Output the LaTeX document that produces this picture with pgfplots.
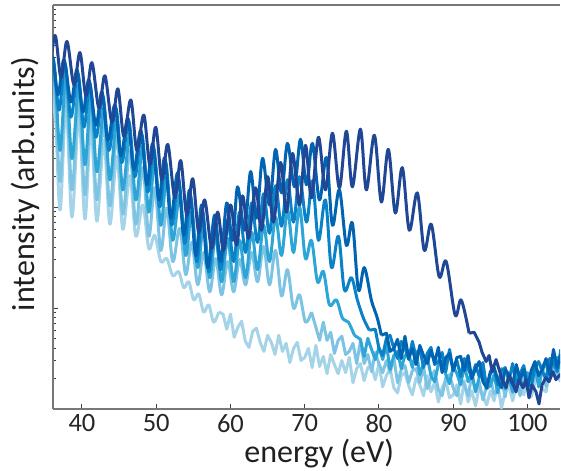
\documentclass[border=0pt]{standalone}
\usepackage{fontspec}
\setmainfont{Carlito}
\usepackage{pgfplots}
\pgfplotsset{compat=1.18}
\definecolor{cNavy}{RGB}{32,70,150}
\definecolor{cBlue}{RGB}{0,100,178}
\definecolor{cMid}{RGB}{10,130,200}
\definecolor{cCyan}{RGB}{45,165,215}
\definecolor{cLight}{RGB}{125,195,228}
\definecolor{cPale}{RGB}{165,212,232}
\definecolor{axgray}{RGB}{120,120,120}
\begin{document}
\begin{tikzpicture}
\path[use as bounding box] (-53bp,-62bp) rectangle (508bp,409bp);
\begin{axis}[
  at={(0,0)}, anchor=south west,
  scale only axis, width=507bp, height=404bp,
  xmin=36.1, xmax=104.38, ymin=0, ymax=4,
  axis x line*=box, axis y line*=left,
  axis line style={-, draw=axgray, line width=1.2bp},
  xtick={40,50,60,70,80,90,100},
  xtick pos=left, ytick pos=left,
  ytick={1,2,3}, yticklabels={},
  minor ytick={0.301,0.477,0.602,0.699,0.778,0.845,0.903,0.954,
               1.301,1.477,1.602,1.699,1.778,1.845,1.903,1.954,
               2.301,2.477,2.602,2.699,2.778,2.845,2.903,2.954,
               3.301,3.477,3.602,3.699,3.778,3.845,3.903,3.954},
  tick align=inside,
  major tick length=5bp, minor tick length=3bp,
  every tick/.style={draw=black!75, line width=1bp},
  /pgf/number format/assume math mode=true,
  ticklabel style={font=\fontsize{26.5bp}{30bp}\selectfont, text=black!85},
  xticklabel style={yshift=-2bp},
  xlabel={energy (eV)}, ylabel={intensity (arb.units)},
  every axis x label/.style={at={(axis description cs:0.525,-0.074)}, anchor=north, inner sep=0pt, font=\fontsize{32bp}{36bp}\selectfont, text=black!88},
  every axis y label/.style={at={(axis description cs:-0.0256,0.557)}, rotate=90, anchor=south, inner sep=0pt, font=\fontsize{32bp}{36bp}\selectfont, text=black!88},
  every axis plot/.append style={line width=3bp, line join=round},
  hh/.style={smooth, tension=0.55},
  nn/.style={sharp plot},
]
% lightest
\addplot[cPale,hh] coordinates {(35.4,1.9)(36.23,3.11)(37.04,1.97)(37.85,3.01)(38.65,1.90)(39.59,2.91)(40.40,1.88)(41.21,2.80)(42.01,1.86)(42.95,2.66)(43.76,1.83)(44.70,2.50)(45.51,1.78)(46.45,2.31)(47.26,1.71)(48.20,2.02)(49.00,1.59)(49.81,1.72)(50.62,1.46)(51.42,1.49)(52.23,1.32)(53.03,1.36)(53.71,1.20)(54.38,1.26)(55.05,1.08)(55.72,1.14)(56.39,0.96)(57.07,1.03)(57.74,0.86)(58.41,0.96)};
\addplot[cPale,nn] coordinates {(58.41,0.96)(59.0,0.94)(59.5,0.79)(60.0,0.94)(60.5,0.71)(61.0,0.81)(61.5,0.87)(62.0,0.67)(62.5,0.61)(63.0,0.77)(63.5,0.80)(64.0,0.66)(64.5,0.57)(65.0,0.73)(65.5,0.66)(66.0,0.54)(66.5,0.73)(67.0,0.57)(67.5,0.65)(68.0,0.46)(68.5,0.60)(69.0,0.66)(69.5,0.48)(70.0,0.51)(70.5,0.60)(71.0,0.41)(71.5,0.63)(72.0,0.42)(72.5,0.52)(73.0,0.35)(73.5,0.54)(74.0,0.44)(74.5,0.35)(75.0,0.48)(75.5,0.36)(76.0,0.51)(76.5,0.26)(77.0,0.40)(77.5,0.45)(78.0,0.28)(78.5,0.41)(79.0,0.43)(79.5,0.29)(80.0,0.45)(80.5,0.22)(81.0,0.33)(81.5,0.40)(82.0,0.21)(82.5,0.16)(83.0,0.33)(83.5,0.36)(84.0,0.23)(84.5,0.14)(85.0,0.31)(85.5,0.24)(86.0,0.13)(86.5,0.33)(87.0,0.17)(87.5,0.26)(88.0,0.07)(88.5,0.21)(89.0,0.28)(89.5,0.11)(90.0,0.14)(90.5,0.24)(91.0,0.05)(91.5,0.28)(92.0,0.07)(92.5,0.18)(93.0,0.03)(93.5,0.22)(94.0,0.13)(94.5,0.04)(95.0,0.18)(95.5,0.08)(96.0,0.25)(96.5,0.01)(97.0,0.17)(97.5,0.23)(98.0,0.08)(98.5,0.23)(99.0,0.26)(99.5,0.14)(100.0,0.32)(100.5,0.12)(101.0,0.26)(101.5,0.36)(102.0,0.20)(102.5,0.17)(103.0,0.37)(103.5,0.43)(104.0,0.33)(104.5,0.27)};
% light
\addplot[cLight,hh] coordinates {(35.4,2.25)(36.23,3.26)(37.04,2.25)(37.85,3.18)(38.65,2.17)(39.59,3.06)(40.40,2.12)(41.21,2.96)(42.01,2.07)(42.95,2.84)(43.76,2.01)(44.70,2.71)(45.51,1.93)(46.45,2.56)(47.26,1.83)(48.20,2.39)(49.00,1.71)(49.81,2.19)(50.62,1.57)(51.42,1.99)(52.23,1.46)(53.17,1.79)(53.98,1.33)(54.78,1.65)(55.59,1.23)(56.39,1.55)(57.20,1.16)(58.01,1.49)(58.81,1.13)(59.62,1.46)(60.43,1.16)(61.23,1.48)(62.04,1.23)(62.85,1.55)(63.65,1.26)(64.46,1.61)(65.26,1.23)(66.07,1.57)(66.88,1.12)(67.68,1.38)(68.49,1.00)(69.30,1.13)(70.10,0.86)(70.91,0.96)};
\addplot[cLight,nn] coordinates {(70.91,0.96)(71.5,0.81)(72.0,0.68)(72.5,0.86)(73.0,0.68)(73.5,0.76)(74.0,0.55)(74.5,0.68)(75.0,0.72)(75.5,0.54)(76.0,0.57)(76.5,0.65)(77.0,0.45)(77.5,0.67)(78.0,0.45)(78.5,0.54)(79.0,0.37)(79.5,0.56)(80.0,0.45)(80.5,0.36)(81.0,0.48)(81.5,0.36)(82.0,0.51)(82.5,0.26)(83.0,0.39)(83.5,0.43)(84.0,0.26)(84.5,0.38)(85.0,0.40)(85.5,0.26)(86.0,0.42)(86.5,0.20)(87.0,0.31)(87.5,0.38)(88.0,0.19)(88.5,0.13)(89.0,0.31)(89.5,0.34)(90.0,0.21)(90.5,0.13)(91.0,0.30)(91.5,0.24)(92.0,0.13)(92.5,0.33)(93.0,0.18)(93.5,0.27)(94.0,0.09)(94.5,0.23)(95.0,0.30)(95.5,0.15)(96.0,0.19)(96.5,0.30)(97.0,0.12)(97.5,0.36)(98.0,0.16)(98.5,0.28)(99.0,0.13)(99.5,0.34)(100.0,0.25)(100.5,0.19)(101.0,0.35)(101.5,0.26)(102.0,0.44)(102.5,0.22)(103.0,0.38)(103.5,0.45)(104.0,0.31)(104.5,0.47)};
% cyan
\addplot[cCyan,hh] coordinates {(35.4,2.6)(36.23,3.38)(37.04,2.56)(37.85,3.31)(38.65,2.48)(39.59,3.21)(40.40,2.42)(41.21,3.11)(42.01,2.35)(42.95,2.98)(43.76,2.27)(44.70,2.86)(45.51,2.17)(46.45,2.73)(47.26,2.07)(48.20,2.59)(49.00,1.95)(49.81,2.45)(50.62,1.82)(51.42,2.29)(52.23,1.67)(53.17,2.12)(53.98,1.52)(54.78,1.95)(55.59,1.40)(56.39,1.82)(57.20,1.30)(58.01,1.72)(58.81,1.26)(59.62,1.69)(60.43,1.26)(61.23,1.67)(62.04,1.30)(62.85,1.75)(63.65,1.38)(64.46,1.82)(65.26,1.46)(66.07,1.90)(66.88,1.52)(67.68,1.97)(68.49,1.55)(69.30,2.00)(70.10,1.49)(70.91,1.67)(71.72,1.26)(72.52,1.36)(73.33,1.03)(74.27,1.08)(75.08,0.90)(75.88,0.86)(76.69,0.73)};
\addplot[cCyan,nn] coordinates {(76.69,0.73)(77.5,0.69)(78.0,0.52)(78.5,0.70)(79.0,0.59)(79.5,0.49)(80.0,0.61)(80.5,0.49)(81.0,0.64)(81.5,0.39)(82.0,0.53)(82.5,0.57)(83.0,0.40)(83.5,0.53)(84.0,0.55)(84.5,0.41)(85.0,0.57)(85.5,0.34)(86.0,0.45)(86.5,0.52)(87.0,0.33)(87.5,0.27)(88.0,0.44)(88.5,0.47)(89.0,0.34)(89.5,0.25)(90.0,0.42)(90.5,0.35)(91.0,0.24)(91.5,0.43)(92.0,0.27)(92.5,0.36)(93.0,0.17)(93.5,0.31)(94.0,0.37)(94.5,0.20)(95.0,0.23)(95.5,0.34)(96.0,0.16)(96.5,0.40)(97.0,0.20)(97.5,0.32)(98.0,0.17)(98.5,0.38)(99.0,0.29)(99.5,0.22)(100.0,0.36)(100.5,0.27)(101.0,0.44)(101.5,0.22)(102.0,0.39)(102.5,0.45)(103.0,0.31)(103.5,0.47)(104.0,0.51)(104.5,0.40)};
% mid
\addplot[cMid,hh] coordinates {(35.3,2.95)(36.10,3.47)(36.91,2.96)(37.71,3.42)(38.52,2.89)(39.46,3.32)(40.27,2.79)(41.07,3.22)(41.88,2.69)(42.82,3.10)(43.63,2.56)(44.57,2.98)(45.37,2.44)(46.31,2.85)(47.12,2.30)(48.06,2.72)(48.87,2.15)(49.67,2.58)(50.48,2.00)(51.29,2.44)(52.09,1.82)(53.03,2.27)(53.84,1.64)(54.65,2.10)(55.45,1.46)(56.26,1.95)(57.07,1.36)(57.87,1.85)(58.68,1.38)(59.62,1.87)(60.43,1.46)(61.23,1.95)(62.04,1.55)(62.85,2.04)(63.65,1.65)(64.46,2.13)(65.26,1.74)(66.07,2.21)(66.88,1.81)(67.68,2.27)(68.49,1.85)(69.30,2.30)(70.24,1.85)(71.04,2.26)(71.85,1.67)(72.79,2.07)(73.60,1.40)(74.54,1.71)(75.34,1.18)(76.29,1.30)(77.09,1.08)(77.90,0.90)(78.70,0.78)};
\addplot[cMid,nn] coordinates {(78.70,0.78)(79.5,0.79)(80.0,0.60)(80.5,0.53)(81.0,0.70)(81.5,0.73)(82.0,0.60)(82.5,0.50)(83.0,0.67)(83.5,0.60)(84.0,0.49)(84.5,0.67)(85.0,0.51)(85.5,0.60)(86.0,0.41)(86.5,0.55)(87.0,0.61)(87.5,0.44)(88.0,0.47)(88.5,0.56)(89.0,0.37)(89.5,0.59)(90.0,0.38)(90.5,0.48)(91.0,0.32)(91.5,0.50)(92.0,0.40)(92.5,0.31)(93.0,0.44)(93.5,0.32)(94.0,0.46)(94.5,0.21)(95.0,0.35)(95.5,0.40)(96.0,0.24)(96.5,0.38)(97.0,0.41)(97.5,0.28)(98.0,0.45)(98.5,0.23)(99.0,0.35)(99.5,0.43)(100.0,0.25)(100.5,0.22)(101.0,0.41)(101.5,0.47)(102.0,0.37)(102.5,0.30)(103.0,0.50)(103.5,0.46)(104.0,0.37)(104.5,0.59)};
% blue
\addplot[cBlue,hh] coordinates {(35.2,3.1)(35.97,3.50)(36.77,3.11)(37.58,3.46)(38.52,3.04)(39.33,3.36)(40.13,2.94)(40.94,3.26)(41.88,2.81)(42.69,3.14)(43.49,2.66)(44.44,3.01)(45.24,2.51)(46.18,2.88)(46.99,2.37)(47.93,2.76)(48.73,2.22)(49.54,2.63)(50.35,2.07)(51.15,2.49)(51.96,1.89)(52.90,2.34)(53.71,1.72)(54.51,2.17)(55.32,1.52)(56.13,2.02)(56.93,1.40)(57.87,1.92)(58.68,1.46)(59.49,2.04)(60.29,1.67)(60.96,2.20)(61.90,1.77)(62.71,2.35)(63.52,1.89)(64.32,2.48)(65.26,2.02)(66.07,2.57)(66.88,2.14)(67.68,2.63)(68.62,2.20)(69.43,2.67)(70.24,2.22)(71.04,2.63)(71.98,2.07)(72.93,2.49)(73.73,1.82)(74.67,2.17)(75.61,1.62)(76.42,1.84)(77.23,1.18)(78.03,1.40)(78.97,1.08)(79.78,0.90)(80.32,0.73)};
\addplot[cBlue,nn] coordinates {(80.32,0.73)(81.0,0.75)(81.5,0.57)(82.0,0.60)(82.5,0.69)(83.0,0.50)(83.5,0.72)(84.0,0.50)(84.5,0.60)(85.0,0.44)(85.5,0.63)(86.0,0.53)(86.5,0.45)(87.0,0.58)(87.5,0.46)(88.0,0.61)(88.5,0.36)(89.0,0.51)(89.5,0.55)(90.0,0.38)(90.5,0.51)(91.0,0.52)(91.5,0.38)(92.0,0.53)(92.5,0.30)(93.0,0.40)(93.5,0.47)(94.0,0.27)(94.5,0.21)(95.0,0.37)(95.5,0.41)(96.0,0.29)(96.5,0.21)(97.0,0.39)(97.5,0.34)(98.0,0.24)(98.5,0.44)(99.0,0.29)(99.5,0.39)(100.0,0.21)(100.5,0.38)(101.0,0.47)(101.5,0.33)(102.0,0.39)(102.5,0.50)(103.0,0.34)(103.5,0.59)(104.0,0.41)(104.5,0.54)};
% navy
\addplot[cNavy,hh] coordinates {(35.55,3.25)(36.37,3.70)(37.18,3.28)(37.98,3.64)(38.92,3.21)(39.73,3.53)(40.54,3.10)(41.34,3.43)(42.28,2.98)(43.09,3.30)(44.03,2.84)(44.84,3.17)(45.64,2.70)(46.58,3.06)(47.39,2.56)(48.33,2.91)(49.14,2.42)(49.94,2.79)(50.75,2.27)(51.56,2.62)(52.50,2.09)(53.30,2.46)(54.11,1.92)(54.92,2.28)(55.72,1.75)(56.53,2.07)(57.47,1.59)(58.28,1.95)(59.08,1.57)(60.02,2.02)(60.83,1.62)(61.64,2.11)(62.44,1.69)(63.38,2.19)(64.19,1.77)(65.00,2.30)(65.80,1.85)(66.74,2.44)(67.55,1.95)(68.36,2.53)(69.30,2.02)(70.10,2.61)(70.91,2.09)(71.85,2.69)(72.79,2.17)(73.73,2.73)(74.67,2.19)(75.61,2.75)(76.42,2.20)(77.50,2.77)(78.30,2.17)(79.38,2.71)(80.32,2.05)(81.26,2.57)(82.20,1.94)(83.14,2.39)(84.08,1.77)(85.16,2.14)(86.10,1.57)(87.04,1.83)(88.11,1.31)(89.05,1.46)(90.26,0.93)(91.07,1.08)(92.14,0.75)};
\addplot[cNavy,nn] coordinates {(92.14,0.75)(92.81,0.76)(93.49,0.66)(93.89,0.56)(94.43,0.47)(94.83,0.53)(95.24,0.37)(95.77,0.49)(96.18,0.39)(96.58,0.29)(97.12,0.21)(97.52,0.34)(97.92,0.27)(98.46,0.17)(98.86,0.29)(99.40,0.21)(99.81,0.29)(100.21,0.11)(100.61,0.24)(101.15,0.17)(101.55,0.05)(101.96,0.24)(102.49,0.31)(102.90,0.27)(103.43,0.37)(103.84,0.29)(104.38,0.34)(104.8,0.3)};
\end{axis}
\end{tikzpicture}
\end{document}
